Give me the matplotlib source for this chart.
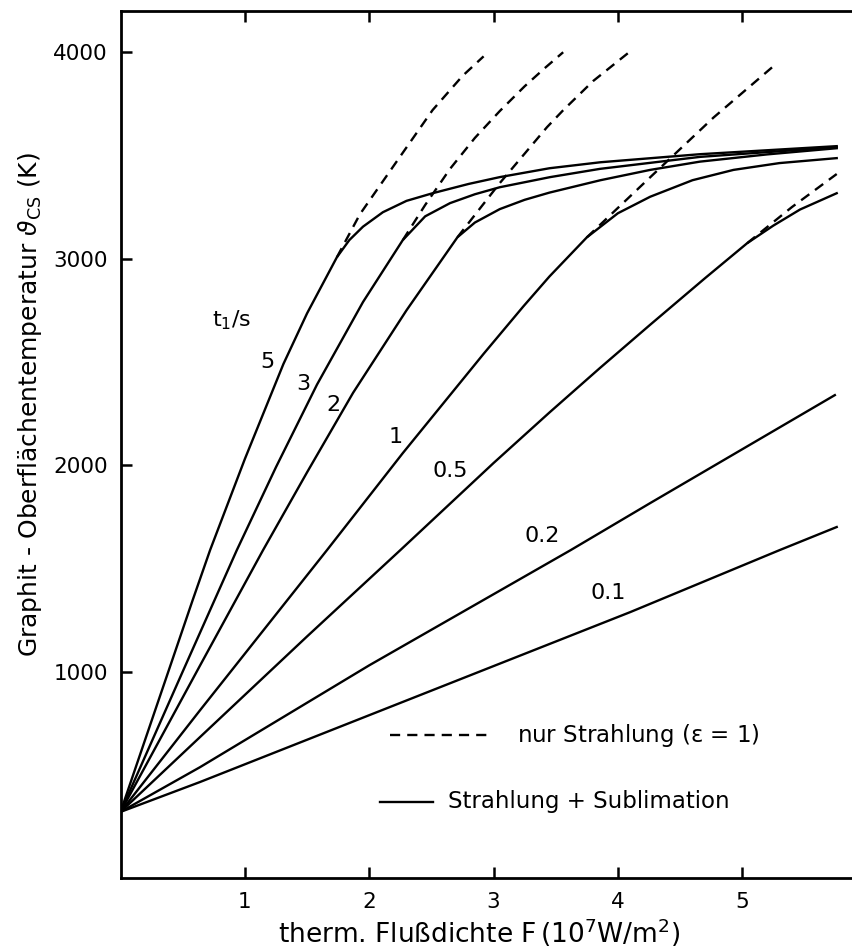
import numpy as np
from matplotlib import pyplot as plt

plt.rcParams['font.family'] = ['DejaVu Sans']

t1_labels = ['5', '3', '2', '1', '0.5', '0.2', '0.1']

# Strahlung + Sublimation
F_5 = [0, 0.58, 0.72, 1.0, 1.31, 1.5, 1.74, 1.84, 1.95, 2.11, 2.3, 2.51, 2.8, 3.05, 3.45, 3.86, 4.66, 5.76]
T_5 = [320, 1346, 1588, 2030, 2490, 2735, 3007, 3090, 3155, 3225, 3280, 3317, 3362, 3395, 3438, 3467, 3506, 3545]
F_3 = [0, 0.5, 0.935, 1.25, 1.58, 1.95, 2.27, 2.45, 2.65, 2.85, 3.05, 3.455, 3.856, 4.66, 5.76]
T_3 = [320, 1000, 1588, 1990, 2390, 2790, 3090, 3205, 3269, 3312, 3346, 3395, 3435, 3493, 3540]
F_2 = [0, 0.64, 1.146, 1.5, 1.87, 2.30, 2.71, 2.85, 3.05, 3.25, 3.45, 3.86, 4.26, 4.66, 5.2, 5.76]
T_2 = [320, 1030, 1588, 1965, 2350, 2750, 3104, 3175, 3240, 3285, 3320, 3380, 3430, 3470, 3505, 3535]
F_1 = [0, 0.64, 1.66, 2.27, 2.92, 3.24, 3.45, 3.75, 4.0, 4.26, 4.6, 4.93, 5.3, 5.76]
T_1 = [320, 813, 1588, 2058, 2539, 2769, 2914, 3103, 3220, 3300, 3380, 3430, 3463, 3487]
F_05 = [0, 0.64, 1.5, 2.25, 3.0, 3.45, 3.855, 4.26, 4.7, 5.04, 5.25, 5.465, 5.76]
T_05 = [320, 683, 1170, 1588, 2010, 2255, 2470, 2680, 2905, 3075, 3160, 3238, 3317]
F_02 = [0, 0.64, 2.0, 3.62, 4.26, 5.745]
T_02 = [320, 537, 1030, 1588, 1816, 2339]
F_01 = [0, 0.64, 4.10, 5.30, 5.76]
T_01 = [320, 465, 1288, 1588, 1700]

# nur Strahlung (eps = 1), ab dem Abzweig von der Vollkurve
Fr_5 = [1.74, 1.925, 2.22, 2.51, 2.75, 2.92]
Tr_5 = [3007, 3215, 3470, 3720, 3885, 3980]
Fr_3 = [2.27, 2.45, 2.65, 2.85, 3.05, 3.25, 3.41, 3.56]
Tr_3 = [3090, 3260, 3435, 3585, 3715, 3835, 3922, 4000]
Fr_2 = [2.71, 3.05, 3.43, 3.56, 3.8, 4.08]
Tr_2 = [3104, 3366, 3637, 3719, 3860, 3995]
Fr_1 = [3.75, 4.27, 4.77, 5.26]
Tr_1 = [3103, 3400, 3684, 3937]
Fr_05 = [5.04, 5.40, 5.76]
Tr_05 = [3075, 3250, 3410]

solid = [(F_5, T_5), (F_3, T_3), (F_2, T_2), (F_1, T_1),
         (F_05, T_05), (F_02, T_02), (F_01, T_01)]
dashed = [(Fr_5, Tr_5), (Fr_3, Tr_3), (Fr_2, Tr_2), (Fr_1, Tr_1), (Fr_05, Tr_05)]

# Beschriftungsorte der Kurven
label_pos = [(1.18, 2500), (1.47, 2395), (1.71, 2290), (2.21, 2135),
             (2.65, 1970), (3.39, 1655), (3.92, 1380)]

fig = plt.figure(figsize=(8.52, 9.51), dpi=100)
ax = fig.add_axes([0.1415, 0.0768, 0.8585, 0.9117])

lw = 1.7
dash = (4.3, 3.0)
for F, T in solid:
    ax.plot(F, T, color='black', lw=lw, solid_joinstyle='round')
for F, T in dashed:
    ax.plot(F, T, color='black', lw=lw, dashes=dash)

for txt, (x, y) in zip(t1_labels, label_pos):
    ax.text(x, y, txt, fontsize=16, ha='center', va='center')
ax.text(0.89, 2700, r'$\mathregular{t_1}$/s', fontsize=16, ha='center', va='center')

# Legende von Hand
ax.plot([2.17, 2.97], [692, 692], color='black', lw=lw, dashes=dash)
ax.text(3.19, 692, r'nur Strahlung ($\mathregular{\varepsilon}$ = 1)', fontsize=16.5,
        ha='left', va='center')
ax.plot([2.09, 2.51], [368, 368], color='black', lw=lw)
ax.text(2.63, 368, 'Strahlung + Sublimation', fontsize=16.5, ha='left', va='center')

ax.set_xlim(0, 5.883)
ax.set_ylim(0, 4200)
ax.set_xticks([1, 2, 3, 4, 5])
ax.set_yticks([1000, 2000, 3000, 4000])
ax.tick_params(direction='in', length=8, width=1.8, top=True, labelsize=15.5)
ax.tick_params(axis='y', pad=9)
ax.tick_params(axis='x', pad=10)
for side in ['left', 'bottom', 'top']:
    ax.spines[side].set_linewidth(2)
ax.spines['right'].set_visible(False)

ax.set_xlabel(r'therm. Flußdichte F$\,$(10$^7$W/m$^2$)', fontsize=19)
ax.xaxis.set_label_coords(0.49, -0.045)
ax.set_ylabel(r'Graphit - Oberflächentemperatur $\vartheta_{\mathregular{CS}}$ (K)', fontsize=18)
ax.yaxis.set_label_coords(-0.105, 0.5455)

fig.savefig('out.png', dpi=100)
